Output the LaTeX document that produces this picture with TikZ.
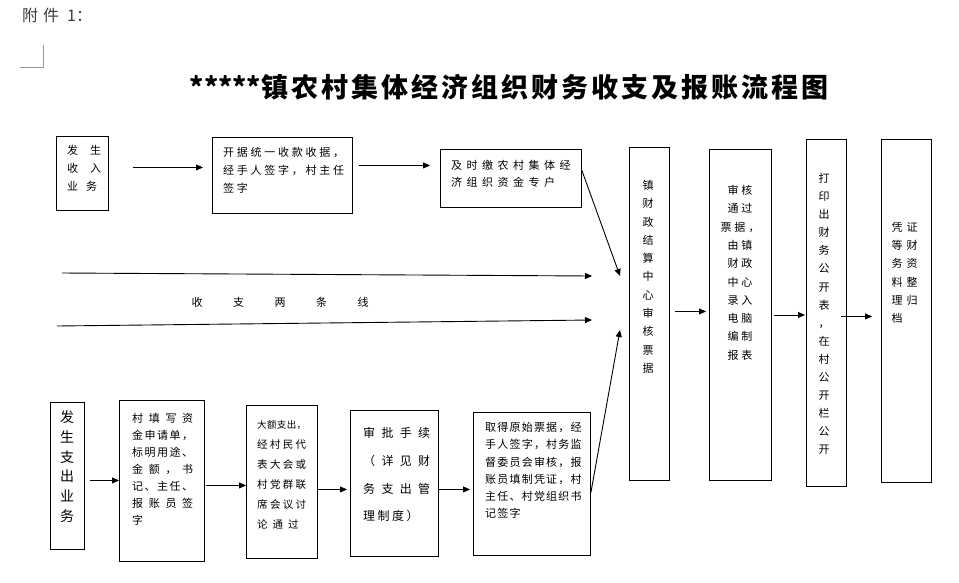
\documentclass[tikz,border=0pt]{standalone}
\usepackage{fontspec}
\setmainfont{Noto Sans CJK SC}
\usetikzlibrary{arrows.meta}
\definecolor{hdr}{RGB}{60,60,60}
\definecolor{markgray}{RGB}{150,150,150}
\makeatletter
\newdimen\cgap
\def\gapd#1#2{\cgap=#1\relax\gapd@first#2\relax}
\def\gapd@first#1{#1\gapd@next}
\def\gapd@next#1{\ifx#1\relax\else\kern\cgap#1\expandafter\gapd@next\fi}
\def\jst#1#2{\makebox[#1][s]{\jst@first#2\relax}}
\def\jst@first#1{#1\jst@next}
\def\jst@next#1{\ifx#1\relax\else\hfil#1\expandafter\jst@next\fi}
\makeatother
\tikzset{
  box/.style={draw, line width=0.9pt, inner sep=0pt, anchor=north west},
  txt/.style={inner sep=0pt, font=\fontsize{11}{18}\selectfont},
  arr/.style={line width=0.9pt, -{Triangle[length=7pt,width=6pt]}},
}
\begin{document}
\begin{tikzpicture}[x=1pt,y=-1pt]
\useasboundingbox[fill=white] (0,0) rectangle (959,582);

% header and corner mark
\node[anchor=west, inner sep=0pt, text=hdr, font=\fontsize{16}{18}\selectfont] (hdr) at (22,15) {\gapd{5pt}{附件}\hspace{8pt}1：};
\draw[markgray, line width=0.8pt] (43,45) -- (43,67) -- (20,67);

% title
\node[inner sep=0pt, font=\bfseries\fontsize{27}{30}\selectfont] (title) at (509,87) {*****\gapd{3pt}{镇农村集体经济组织财务收支及报账流程图}};

% boxes
\node[box, minimum width=52pt, minimum height=74pt] (A) at (56,136) {};
\node[box, minimum width=140pt, minimum height=76pt] (B) at (212,137) {};
\node[box, minimum width=141pt, minimum height=58pt] (C) at (440,149) {};
\node[box, minimum width=34pt, minimum height=147pt] (E1) at (50,402) {};
\node[box, minimum width=85pt, minimum height=161pt] (E2) at (119,400) {};
\node[box, minimum width=71pt, minimum height=153pt] (E3) at (246,405) {};
\node[box, minimum width=88pt, minimum height=146pt] (E4) at (350,410) {};
\node[box, minimum width=117pt, minimum height=143pt] (E5) at (473,412) {};
\node[box, minimum width=40pt, minimum height=333pt] (F) at (629,147) {};
\node[box, minimum width=62pt, minimum height=331pt] (G) at (709,149) {};
\node[box, minimum width=40pt, minimum height=347pt] (H) at (806,139) {};
\node[box, minimum width=50pt, minimum height=343pt] (I) at (881,139) {};

% texts in boxes
\node[txt, anchor=north west, align=left] (tA) at (67,145) {\gapd{12pt}{发生}\\\gapd{12pt}{收入}\\\gapd{8pt}{业务}};
\node[txt, anchor=north west, align=left] (tB) at (223,147) {\gapd{2.75pt}{开据统一收款收据，}\\\gapd{2.75pt}{经手人签字，村主任}\\\gapd{2.75pt}{签字}};
\node[txt, anchor=north west, align=left, font=\fontsize{11}{17.5}\selectfont] (tC) at (451,160) {\gapd{4.5pt}{及时缴农村集体经}\\\gapd{4.5pt}{济组织资金专户}};
\node[txt, anchor=north, align=center, font=\fontsize{11}{18.3}\selectfont] (tF) at (648,180) {镇\\财\\政\\结\\算\\中\\心\\审\\核\\票\\据};
\node[txt, anchor=north, align=center, font=\fontsize{11}{18.3}\selectfont] (tG) at (740,185) {\gapd{3pt}{审核}\\\gapd{3pt}{通过}\\\gapd{3pt}{票据，}\\\gapd{3pt}{由镇}\\\gapd{3pt}{财政}\\\gapd{3pt}{中心}\\\gapd{3pt}{录入}\\\gapd{3pt}{电脑}\\\gapd{3pt}{编制}\\\gapd{3pt}{报表}};
\node[txt, anchor=north, align=center, font=\fontsize{11}{18.1}\selectfont] (tH) at (824,173) {打\\印\\出\\财\\务\\公\\开\\表\\，\\在\\村\\公\\开\\栏\\公\\开};
\node[txt, anchor=north west, align=left, font=\fontsize{11}{18.2}\selectfont] (tI) at (891.5,222) {\gapd{4pt}{凭证}\\\gapd{4pt}{等财}\\\gapd{4pt}{务资}\\\gapd{4pt}{料整}\\\gapd{4pt}{理归}\\档};
\node[txt, anchor=north, align=center, font=\fontsize{14}{19.8}\selectfont] (tE1) at (67,410.5) {发\\生\\支\\出\\业\\务};
\node[txt, anchor=north west, align=left, font=\fontsize{11}{17}\selectfont] (tE2) at (132,413) {\jst{61pt}{村填写资}\\\jst{61pt}{金申请单，}\\\jst{61pt}{标明用途、}\\\jst{61pt}{金额，书}\\\jst{61pt}{记、主任、}\\\jst{61pt}{报账员签}\\字};
\node[txt, anchor=north west, align=left, font=\fontsize{10.5}{20}\selectfont] (tE3) at (257,420) {{\fontsize{9.5}{20}\selectfont\jst{49pt}{大额支出，}}\\\jst{49pt}{经村民代}\\\jst{49pt}{表大会或}\\\jst{49pt}{村党群联}\\\jst{49pt}{席会议讨}\\\gapd{5pt}{论通过}};
\node[txt, anchor=north west, align=left, font=\fontsize{12}{27.7}\selectfont] (tE4) at (363,427.5) {\jst{67pt}{审批手续}\\\jst{67pt}{（详见财}\\\jst{67pt}{务支出管}\\\gapd{2.5pt}{理制度）}};
\node[txt, anchor=north west, align=left, font=\fontsize{11}{17.3}\selectfont] (tE5) at (485,422) {\gapd{1.2pt}{取得原始票据，经}\\\gapd{1.2pt}{手人签字，村务监}\\\gapd{1.2pt}{督委员会审核，报}\\\gapd{1.2pt}{账员填制凭证，村}\\\gapd{1.2pt}{主任、村党组织书}\\\gapd{1.2pt}{记签字}};

% middle label
\node[txt, anchor=west] (shouzhi) at (191.5,302) {\gapd{30.5pt}{收支两条线}};

% free ends
\coordinate (t1) at (620,276);
\coordinate (t2) at (620,330);
\coordinate (L1s) at (62,273);
\coordinate (L1e) at (592,276);
\coordinate (L2s) at (57,326);
\coordinate (L2e) at (592,320);

% connectors
\draw[arr, shorten <=24pt, shorten >=9pt] ([yshift=6pt]A.east) -- ([yshift=6pt]A.east -| B.west);
\draw[arr, shorten <=6pt, shorten >=10pt] ([yshift=10pt]B.east) -- ([yshift=10pt]B.east -| C.west);
\draw[arr] ([yshift=8pt]C.east) -- (t1);
\draw[arr] (L1s) -- (L1e);
\draw[arr] (L2s) -- (L2e);
\draw[arr] ([yshift=-8.5pt]E5.east) -- (t2);
\draw[arr, shorten <=5pt, shorten >=3pt] ([yshift=2.5pt]F.east) -- ([yshift=2.5pt]F.east -| G.west);
\draw[arr, shorten <=2pt, shorten >=1pt] (G.east) -- (G.east -| H.west);
\draw[arr, shorten <=-6pt, shorten >=9pt] ([yshift=-3.5pt]H.east) -- ([yshift=-3.5pt]H.east -| I.west);
\draw[arr, shorten <=5pt] ([yshift=-4.5pt]E1.east) -- ([yshift=-4.5pt]E1.east -| E2.west);
\draw[arr, shorten <=1pt] ([yshift=-4.5pt]E2.east) -- ([yshift=-4.5pt]E2.east -| E3.west);
\draw[arr, shorten >=3pt] ([yshift=-7.5pt]E3.east) -- ([yshift=-7.5pt]E3.east -| E4.west);
\draw[arr, shorten >=3pt] ([yshift=-6pt]E4.east) -- ([yshift=-6pt]E4.east -| E5.west);
\end{tikzpicture}
\end{document}
